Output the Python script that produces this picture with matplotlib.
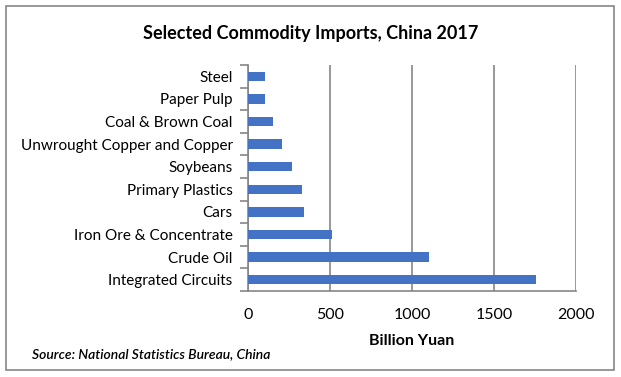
import matplotlib.pyplot as plt
from matplotlib.patches import Rectangle
from matplotlib.ticker import FixedLocator, NullFormatter

commodities = ["Integrated Circuits", "Crude Oil", "Iron Ore & Concentrate", "Cars",
               "Primary Plastics", "Soybeans", "Unwrought Copper and Copper",
               "Coal & Brown Coal", "Paper Pulp", "Steel"]
imports_bn_yuan = [1759, 1102, 515, 342, 327, 268, 210, 152, 102, 106]
x_ticks = [0, 500, 1000, 1500, 2000]

plt.rcParams['font.family'] = ['Lato', 'DejaVu Sans']

W, H = 621, 377
fig = plt.figure(figsize=(W / 100, H / 100), dpi=100)
ax = fig.add_axes([248 / W, 1 - 291 / H, (576 - 248) / W, (291 - 65) / H])

bar_color = '#4472C4'
grid_color = '#868686'

ypos = range(len(commodities))
ax.barh(ypos, imports_bn_yuan, height=0.42, color=bar_color, zorder=3)
ax.set_ylim(-0.5, len(commodities) - 0.5)
ax.set_xlim(0, 2000)
ax.set_xticks(x_ticks)
ax.set_xticklabels([str(t) for t in x_ticks], fontsize=11.5)
ax.set_yticks(list(ypos))
ax.set_yticklabels(commodities, fontsize=11)
ax.yaxis.set_minor_locator(FixedLocator([i - 0.5 for i in range(len(commodities) + 1)]))
ax.yaxis.set_minor_formatter(NullFormatter())
ax.tick_params(axis='y', which='major', length=0, pad=11)
ax.tick_params(axis='y', which='minor', length=6, width=1.2, color=grid_color)
ax.tick_params(axis='x', length=0, pad=12)

ax.grid(axis='x', color=grid_color, linewidth=1.2, zorder=0)
for side in ['top', 'right']:
    ax.spines[side].set_visible(False)
for side in ['left', 'bottom']:
    ax.spines[side].set_color(grid_color)
    ax.spines[side].set_linewidth(1.2)

ax.set_xlabel('Billion Yuan', fontsize=11.5, fontweight='bold', labelpad=9)

fig.text(0.5, 1 - 33 / H, 'Selected Commodity Imports, China 2017',
         ha='center', va='center', fontsize=13, fontweight='bold')
fig.text(32 / W, 1 - 354 / H, 'Source: National Statistics Bureau, China',
         ha='left', va='center', fontsize=10, fontstyle='italic', fontweight='semibold')

fig.patches.append(Rectangle((6 / W, 1 - 370 / H), (614 - 6) / W, (370 - 6) / H,
                             transform=fig.transFigure, fill=False,
                             edgecolor=grid_color, linewidth=1.2))

fig.savefig('out.png', dpi=100)
